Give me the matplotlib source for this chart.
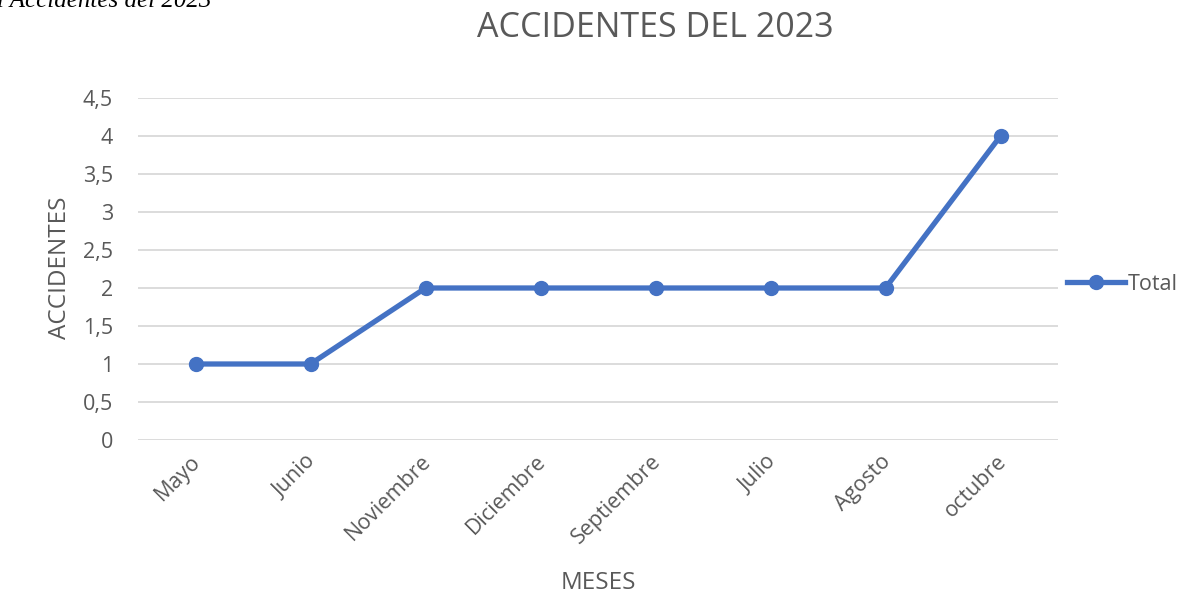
import matplotlib
matplotlib.use("Agg")
import matplotlib.pyplot as plt
from matplotlib.lines import Line2D
import matplotlib.transforms as mtransforms

months = ["Mayo", "Junio", "Noviembre", "Diciembre", "Septiembre", "Julio", "Agosto", "octubre"]
totals = [1, 1, 2, 2, 2, 2, 2, 4]
yticks = [0, 0.5, 1, 1.5, 2, 2.5, 3, 3.5, 4, 4.5]
ytick_labels = ["0", "0,5", "1", "1,5", "2", "2,5", "3", "3,5", "4", "4,5"]

plt.rcParams['font.family'] = ['Open Sans', 'DejaVu Sans']
blue = "#4472C4"
gray = "#595959"

fig = plt.figure(figsize=(11.91, 5.99), dpi=100)
ax = fig.add_axes([138/1191, 1-440/599, 920/1191, 342/599])

x = list(range(len(months)))
ax.plot(x, totals, color=blue, lw=3.8, marker='o', markersize=10, solid_capstyle='round', zorder=3)

ax.set_xlim(-0.5, len(months)-0.5)
ax.set_ylim(0, 4.5)
ax.set_yticks(yticks)
ax.set_yticklabels(ytick_labels, fontsize=15.5, color=gray)
ax.set_xticks(x)
ax.set_xticklabels(months, rotation=45, ha='right', rotation_mode='anchor', fontsize=15.5, color=gray)
ax.tick_params(axis='both', length=0)
ax.tick_params(axis='y', pad=18)
ax.tick_params(axis='x', pad=8)
offset = mtransforms.ScaledTranslation(-5/100, 0, fig.dpi_scale_trans)
for lbl in ax.get_xticklabels():
    lbl.set_transform(lbl.get_transform() + offset)
ax.grid(axis='y', color="#D9D9D9", lw=1.3)
ax.set_axisbelow(True)
for s in ax.spines.values():
    s.set_visible(False)

fig.text(60/1191, 1-268/599, "ACCIDENTES", rotation=90, ha='center', va='center', fontsize=17.5, color=gray)
fig.text(598/1191, 1-583/599, "MESES", ha='center', va='center', fontsize=17.5, color=gray)
fig.text(655/1191, 1-28/599, "ACCIDENTES DEL 2023", ha='center', va='center', fontsize=24.5, color=gray)
fig.text(-3/1191, 1-1/599, "l Accidentes del 2023", ha='left', va='center', fontsize=18,
         style='italic', family=['Liberation Serif', 'DejaVu Serif'], color='black')

leg = Line2D([0], [0], color=blue, lw=3.8, marker='o', markersize=10)
fig.legend([leg], ["Total"], loc='center left', bbox_to_anchor=(1067/1191, 1-284/599),
           frameon=False, fontsize=15.5, labelcolor=gray, handlelength=2.7, handletextpad=0.1,
           borderaxespad=0, borderpad=0)

fig.savefig("out.png", dpi=100)
